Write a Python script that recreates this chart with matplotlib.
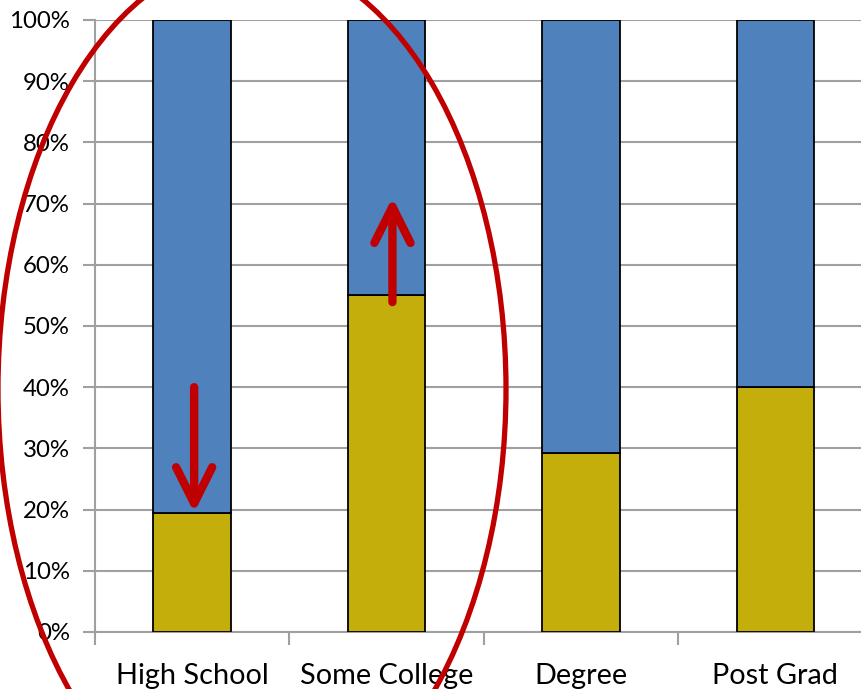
import matplotlib
matplotlib.use("Agg")
import matplotlib.pyplot as plt
from matplotlib.patches import Ellipse
from matplotlib.ticker import FixedLocator, PercentFormatter

plt.rcParams['font.family'] = ['Lato', 'DejaVu Sans']

# share of each group (percent), lower segment; upper segment fills to 100
categories = ['High School', 'Some College', 'Degree', 'Post Grad']
lower_share = [19.5, 55.1, 29.2, 40.0]
upper_share = [100 - v for v in lower_share]

# arrows: (category index, start %, end %)
arrow_from = [40.0, 53.9]
arrow_to = [19.5, 71.0]
arrow_cat = [0.01, 1.03]

blue = '#4F81BD'
gold = '#C4AE0C'
red = '#C00000'
grid_gray = '#A0A0A0'

fig = plt.figure(figsize=(8.62, 6.89), dpi=100)
ax = fig.add_axes([95 / 862, 1 - 632 / 689, 777.6 / 862, 612 / 689])

x = list(range(len(categories)))
ax.bar(x, lower_share, width=0.4, color=gold, edgecolor='black', linewidth=1.3, zorder=3)
ax.bar(x, upper_share, width=0.4, bottom=lower_share, color=blue,
       edgecolor='black', linewidth=1.3, zorder=3)

ax.set_xlim(-0.5, 3.5)
ax.set_ylim(0, 100)
ax.set_yticks(range(0, 101, 10))
ax.yaxis.set_major_formatter(PercentFormatter(decimals=0))
ax.yaxis.grid(True, color=grid_gray, linewidth=1.5, zorder=0)
ax.set_axisbelow(True)

ax.set_xticks(x)
ax.set_xticklabels(categories)
ax.xaxis.set_minor_locator(FixedLocator([-0.5, 0.5, 1.5, 2.5]))
ax.tick_params(axis='x', which='major', length=0, pad=22, labelsize=20.8, colors='black')
ax.tick_params(axis='x', which='minor', length=9, width=1.5, color=grid_gray, direction='out')
ax.tick_params(axis='y', length=9, width=1.5, color=grid_gray, pad=9, labelsize=17.3)

for side in ['top', 'right']:
    ax.spines[side].set_visible(False)
for side in ['left', 'bottom']:
    ax.spines[side].set_color(grid_gray)
    ax.spines[side].set_linewidth(1.5)

# red arrows on the first two bars
for cx, y0, y1 in zip(arrow_cat, arrow_from, arrow_to):
    ax.annotate('', xy=(cx, y1), xytext=(cx, y0),
                arrowprops=dict(arrowstyle='->,head_length=1.3,head_width=0.65',
                                color=red, lw=6.0, mutation_scale=20,
                                shrinkA=0, shrinkB=0, capstyle='round',
                                joinstyle='round'),
                zorder=5)

# big red ellipse around the first two groups
ring = Ellipse((252 / 862, 1 - 389 / 689), 508 / 862, 866 / 689,
               transform=fig.transFigure, fill=False, edgecolor=red,
               linewidth=3.8, clip_on=False, zorder=10)
fig.patches.append(ring)

fig.savefig('out.png', dpi=100)
